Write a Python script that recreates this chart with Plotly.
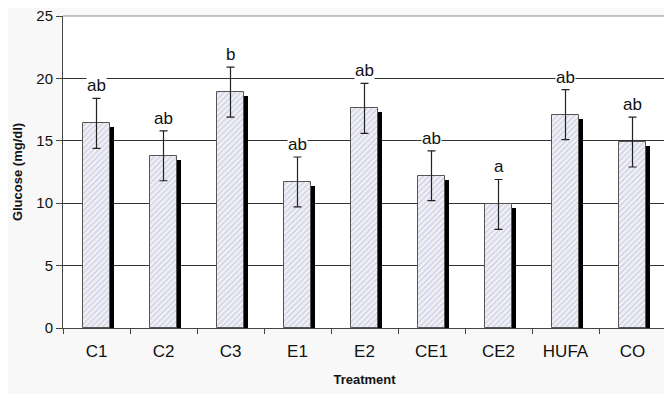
import plotly.graph_objects as go

categories = ["C1", "C2", "C3", "E1", "E2", "CE1", "CE2", "HUFA", "CO"]
glucose = [16.4, 13.8, 18.9, 11.7, 17.6, 12.2, 9.9, 17.1, 14.9]
sd = [2.0, 2.0, 2.0, 2.0, 2.0, 2.0, 2.0, 2.0, 2.0]
letters = ["ab", "ab", "b", "ab", "ab", "ab", "a", "ab", "ab"]
y_ticks = [0, 5, 10, 15, 20, 25]

FONT = "Liberation Sans, Arial, sans-serif"

fig = go.Figure()

# drop shadow
fig.add_trace(go.Bar(
    x=categories, y=glucose, base=-0.32,
    width=0.4, offset=-0.14,
    marker=dict(color="#000000", line=dict(width=0)),
    hoverinfo="skip", showlegend=False,
))
# main bars
fig.add_trace(go.Bar(
    x=categories, y=glucose,
    width=0.4, offset=-0.2,
    marker=dict(
        color="#f0f0f7",
        line=dict(color="#555555", width=1),
        pattern=dict(shape="/", fgcolor="#a8a8c8", bgcolor="#f0f0f7", size=4, solidity=0.3),
    ),
    error_y=dict(type="data", array=sd, visible=True, color="#222222", thickness=1.2, width=4),
    showlegend=False,
))

for c, v, s, t in zip(categories, glucose, sd, letters):
    fig.add_annotation(
        x=c, y=v + s, text=t, showarrow=False, yanchor="bottom", yshift=2,
        font=dict(family=FONT, size=17, color="#111111"),
        bgcolor="#ffffff", borderpad=0,
    )

fig.add_shape(type="line", xref="paper", yref="paper", x0=1, x1=1, y0=0, y1=1,
              line=dict(color="#999999", width=1))
fig.add_shape(type="line", xref="paper", yref="paper", x0=0, x1=1, y0=1, y1=1,
              line=dict(color="#888888", width=1))

fig.update_layout(
    width=664, height=386,
    margin=dict(l=55, r=6, t=8, b=66),
    paper_bgcolor="#f8f8f8", plot_bgcolor="#ffffff",
    barmode="overlay", bargap=0,
    font=dict(family=FONT, color="#111111"),
    xaxis=dict(
        title=dict(text="<b>Treatment</b>", font=dict(size=13), standoff=14),
        tickfont=dict(size=17), ticks="outside", tickson="boundaries", ticklen=5,
        ticklabelstandoff=8,
        tickcolor="#444444", showline=True, linecolor="#444444", showgrid=False,
        automargin=False,
    ),
    yaxis=dict(
        title=dict(text="<b>Glucose (mg/dl)</b>", font=dict(size=13), standoff=10),
        range=[0, 25], tickvals=y_ticks, tickfont=dict(size=15),
        ticks="outside", ticklen=6, tickcolor="#444444", ticklabeloverflow="allow",
        showline=True, linecolor="#444444",
        showgrid=True, gridcolor="#333333", gridwidth=1, zeroline=False,
        automargin=False,
    ),
)

fig.write_html("out.html")
